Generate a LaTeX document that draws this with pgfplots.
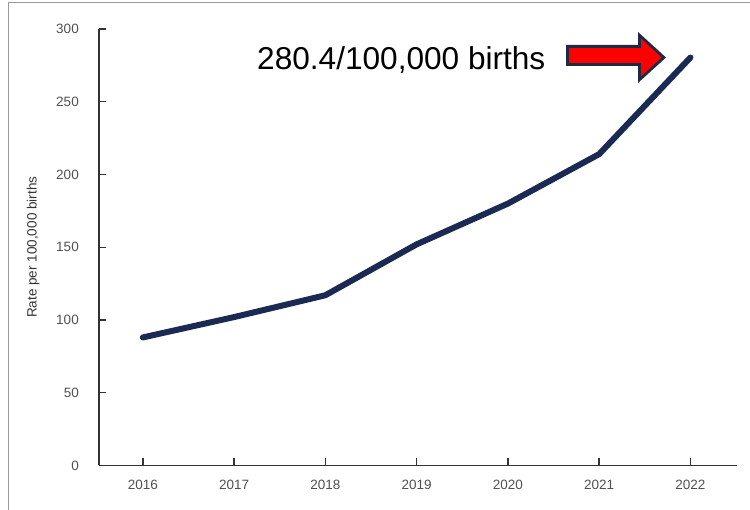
\documentclass[border=0pt]{standalone}
\usepackage{fontspec}
\setmainfont{Liberation Sans}
\usepackage{pgfplots}
\pgfplotsset{compat=1.18}
\definecolor{navyline}{HTML}{1B2A52}
\definecolor{arrowedge}{HTML}{1C2A44}
\definecolor{axisgray}{HTML}{333333}
\definecolor{labelgray}{HTML}{505050}
\begin{document}
\begin{tikzpicture}[x=1pt,y=1pt]
\path[use as bounding box] (0,0) rectangle (750,510);
\draw[gray!80, line width=1.5pt] (8.3,0) -- (8.3,507.3) -- (750,507.3);
\begin{axis}[
  at={(99pt,44.5pt)}, anchor=south west,
  scale only axis, width=638pt, height=436.5pt,
  xmin=2015.52, xmax=2022.51, ymin=0, ymax=300,
  axis x line*=bottom, axis y line*=left,
  axis line style={axisgray, line width=1.4pt, -},
  xtick={2016,...,2022}, ytick={0,50,...,300},
  x tick label style={/pgf/number format/1000 sep={}},
  tick align=inside, major tick length=7.5pt,
  tick style={axisgray, line width=1.4pt},
  /pgf/number format/assume math mode=true,
  ticklabel style={font=\fontsize{13.5}{15}\selectfont, text=labelgray},
  xticklabel style={yshift=-11.4pt},
  yticklabel style={xshift=-16.7pt},
  ylabel={Rate per 100,000 births},
  ylabel style={at={(axis description cs:-0.1034,0.5)}, anchor=center, font=\fontsize{13.5}{15}\selectfont, text=axisgray},
  clip=false,
]
\addplot[navyline, line width=6pt, line join=round, line cap=round] coordinates {
  (2016,88) (2017,102) (2018,117) (2019,152) (2020,180) (2021,214) (2022,280.4)
};
\end{axis}
\node[anchor=base west, inner sep=0pt, font=\fontsize{31.6}{36}\selectfont] at (257,440.7) {280.4/100,000 births};
\fill[arrowedge] (566,465) -- (638,465) -- (638,478) -- (666,452.5) -- (638,427) -- (638,444) -- (566,444) -- cycle;
\fill[red] (569,461.8) -- (641,461.8) -- (641,471.5) -- (661.5,452.5) -- (641,433.5) -- (641,447.2) -- (569,447.2) -- cycle;
\end{tikzpicture}
\end{document}
